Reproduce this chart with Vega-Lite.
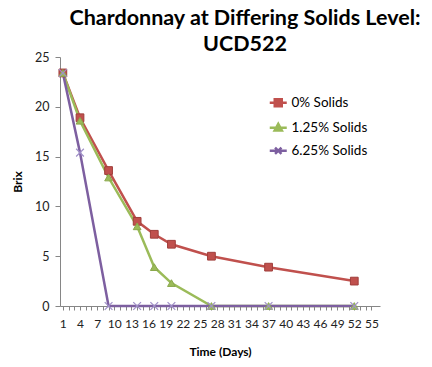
{
  "$schema": "https://vega.github.io/schema/vega-lite/v6.json",
  "width": 320,
  "height": 249,
  "autosize": "none",
  "padding": {"left": 60, "top": 57, "right": 52, "bottom": 61},
  "background": "white",
  "config": {"view": {"stroke": null}, "font": "Lato"},
  "title": {
    "text": ["Chardonnay at Differing Solids Level:", "UCD522"],
    "fontSize": 21.5,
    "font": "Lato",
    "fontWeight": "bold",
    "color": "#000000",
    "anchor": "middle",
    "dx": 25,
    "offset": -4,
    "lineHeight": 26
  },
  "data": {
    "values": [
      {"series": "0% Solids", "day": 1, "brix": 23.4},
      {"series": "0% Solids", "day": 4, "brix": 18.9},
      {"series": "0% Solids", "day": 9, "brix": 13.6},
      {"series": "0% Solids", "day": 14, "brix": 8.5},
      {"series": "0% Solids", "day": 17, "brix": 7.2},
      {"series": "0% Solids", "day": 20, "brix": 6.2},
      {"series": "0% Solids", "day": 27, "brix": 5.0},
      {"series": "0% Solids", "day": 37, "brix": 3.9},
      {"series": "0% Solids", "day": 52, "brix": 2.5},
      {"series": "1.25% Solids", "day": 1, "brix": 23.4},
      {"series": "1.25% Solids", "day": 4, "brix": 18.6},
      {"series": "1.25% Solids", "day": 9, "brix": 12.9},
      {"series": "1.25% Solids", "day": 14, "brix": 8.0},
      {"series": "1.25% Solids", "day": 17, "brix": 3.9},
      {"series": "1.25% Solids", "day": 20, "brix": 2.3},
      {"series": "1.25% Solids", "day": 27, "brix": 0},
      {"series": "1.25% Solids", "day": 37, "brix": 0},
      {"series": "1.25% Solids", "day": 52, "brix": 0},
      {"series": "6.25% Solids", "day": 1, "brix": 23.4},
      {"series": "6.25% Solids", "day": 4, "brix": 15.4},
      {"series": "6.25% Solids", "day": 9, "brix": 0},
      {"series": "6.25% Solids", "day": 14, "brix": 0},
      {"series": "6.25% Solids", "day": 17, "brix": 0},
      {"series": "6.25% Solids", "day": 20, "brix": 0},
      {"series": "6.25% Solids", "day": 27, "brix": 0},
      {"series": "6.25% Solids", "day": 37, "brix": 0},
      {"series": "6.25% Solids", "day": 52, "brix": 0}
    ]
  },
  "encoding": {
    "x": {
      "field": "day",
      "type": "quantitative",
      "scale": {"domain": [0.5, 56.5], "nice": false, "zero": false},
      "axis": {
        "title": "Time (Days)",
        "titleFont": "Lato",
        "titleFontSize": 12,
        "titleFontWeight": "bold",
        "titleColor": "#000000",
        "titlePadding": 17,
        "values": [1,2,3,4,5,6,7,8,9,10,11,12,13,14,15,16,17,18,19,20,21,22,23,24,25,26,27,28,29,30,31,32,33,34,35,36,37,38,39,40,41,42,43,44,45,46,47,48,49,50,51,52,53,54,55],
        "labelExpr": "(datum.value - 1) % 3 === 0 ? datum.label : ''",
        "labelFontSize": 12,
        "labelColor": "#222222",
        "labelPadding": 8,
        "labelOverlap": false,
        "labelFlush": false,
        "grid": false,
        "domainColor": "#868686",
        "tickColor": "#868686",
        "tickSize": 4
      }
    },
    "y": {
      "field": "brix",
      "type": "quantitative",
      "scale": {"domain": [0, 25], "nice": false},
      "axis": {
        "title": "Brix",
        "titleFont": "Lato",
        "titleFontSize": 12,
        "titleFontWeight": "bold",
        "titleColor": "#000000",
        "titlePadding": 10,
        "values": [0, 5, 10, 15, 20, 25],
        "labelFontSize": 12.5,
        "labelColor": "#222222",
        "labelPadding": 6,
        "grid": false,
        "domainColor": "#868686",
        "tickColor": "#868686",
        "tickSize": 5
      }
    },
    "color": {
      "field": "series",
      "type": "nominal",
      "sort": ["0% Solids", "1.25% Solids", "6.25% Solids"],
      "scale": {"domain": ["0% Solids", "1.25% Solids", "6.25% Solids"], "range": ["#C0504D", "#9BBB59", "#7D5FA0"]},
      "legend": {
        "title": null,
        "orient": "none",
        "legendX": 211.5,
        "legendY": 39,
        "padding": 0,
        "labelFontSize": 13.5,
        "labelColor": "#000000",
        "labelFont": "Lato",
        "symbolSize": 64,
        "labelOffset": 6.5,
        "rowPadding": 6,
        "symbolType": {"expr": "datum.value === '0% Solids' ? 'M-2.125,0H2.125M-0.875,-0.875H0.875V0.875H-0.875Z' : datum.value === '1.25% Solids' ? 'M-2.125,0H2.125M0,-0.95L0.9,0.7L-0.9,0.7Z' : 'M-2.125,0H2.125M-0.8,-0.8L0.8,0.8M-0.8,0.8L0.8,-0.8'"},
        "symbolStrokeColor": {"expr": "datum.value === '0% Solids' ? '#C0504D' : datum.value === '1.25% Solids' ? '#9BBB59' : '#7D5FA0'"},
        "symbolFillColor": {"expr": "datum.value === '0% Solids' ? '#C0504D' : datum.value === '1.25% Solids' ? '#9BBB59' : '#7D5FA0'"},
        "symbolStrokeWidth": 2.5,
        "symbolOpacity": 1
      }
    }
  },
  "layer": [
    {
      "mark": {"type": "line", "strokeWidth": 2.5}
    },
    {
      "transform": [{"filter": "datum.series === '0% Solids'"}],
      "mark": {"type": "point", "shape": "square", "filled": true, "size": 60, "opacity": 1, "stroke": "#A03E3B", "strokeWidth": 1}
    },
    {
      "transform": [{"filter": "datum.series === '1.25% Solids'"}],
      "mark": {"type": "point", "shape": "triangle-up", "filled": true, "size": 60, "opacity": 1, "stroke": "#8AA84C", "strokeWidth": 1}
    },
    {
      "transform": [{"filter": "datum.series === '6.25% Solids'"}],
      "mark": {"type": "point", "shape": "M-1,-1L1,1M-1,1L1,-1", "filled": false, "size": 60, "opacity": 1, "stroke": "#A090C8", "strokeWidth": 1.2}
    }
  ]
}
